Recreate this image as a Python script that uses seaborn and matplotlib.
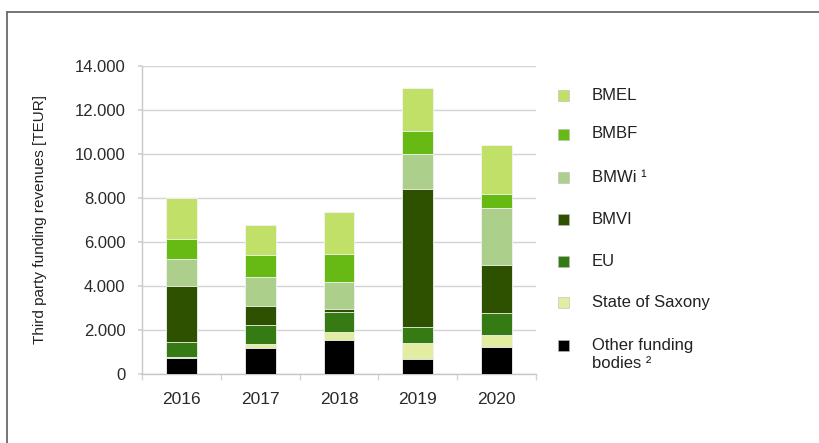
import numpy as np
import pandas as pd
import matplotlib
matplotlib.use("Agg")
import matplotlib.pyplot as plt
from matplotlib.patches import Rectangle
from matplotlib.lines import Line2D
from matplotlib.ticker import FuncFormatter, FixedLocator
import seaborn as sns

# Third party funding revenues in TEUR, by funding body (bottom to top of each stack)
years = ["2016", "2017", "2018", "2019", "2020"]
other_funding = [720, 1170, 1540, 670, 1210]
state_of_saxony = [40, 190, 380, 730, 560]
eu = [680, 850, 910, 730, 1010]
bmvi = [2570, 880, 110, 6280, 2170]
bmwi = [1200, 1330, 1260, 1570, 2590]
bmbf = [920, 970, 1270, 1060, 640]
bmel = [1850, 1380, 1880, 1940, 2200]

series_names = ["Other funding\nbodies ²", "State of Saxony", "EU", "BMVI", "BMWi ¹", "BMBF", "BMEL"]
series_values = [other_funding, state_of_saxony, eu, bmvi, bmwi, bmbf, bmel]
series_colors = ["#000000", "#e2eda2", "#357a12", "#2e5100", "#acd08b", "#67b914", "#c0e067"]

sns.set_theme(style="white")
plt.rcParams["font.family"] = ["Liberation Sans", "DejaVu Sans"]

fig = plt.figure(figsize=(8.2, 4.43), dpi=100)
ax = fig.add_axes([142 / 820, 1 - 374 / 443, (536 - 142) / 820, (374 - 65.7) / 443])

# Long-form table with cumulative heights; taller stacks drawn first, shorter on top
rows = []
cum = np.zeros(len(years))
for name, vals in zip(series_names, series_values):
    cum = cum + np.array(vals, dtype=float)
    for y, c in zip(years, cum):
        rows.append({"year": y, "source": name, "top": c})
df = pd.DataFrame(rows)

for name, color in reversed(list(zip(series_names, series_colors))):
    sub = df[df["source"] == name]
    sns.barplot(data=sub, x="year", y="top", order=years, color=color,
                width=0.39, saturation=1, edgecolor="#f4f4f4", linewidth=0.6,
                ax=ax, zorder=3)

ax.set_ylim(0, 14000)
ax.set_xlim(-0.5, len(years) - 0.5)
ax.set_yticks(np.arange(0, 14001, 2000))
ax.yaxis.set_major_formatter(FuncFormatter(lambda v, p: f"{int(v):,}".replace(",", ".")))
ax.grid(axis="y", color="#d4d4d4", linewidth=1.0, zorder=0)
ax.set_axisbelow(True)

for side in ["top", "right"]:
    ax.spines[side].set_visible(False)
for side in ["left", "bottom"]:
    ax.spines[side].set_color("#c8c8c8")
    ax.spines[side].set_linewidth(1.0)

ax.tick_params(axis="y", which="major", length=3, color="#d4d4d4", pad=9,
               labelsize=12, labelcolor="#2a2a2a", left=True)
ax.tick_params(axis="x", which="major", length=0, pad=13, labelsize=12.5,
               labelcolor="#2a2a2a", bottom=True)
ax.xaxis.set_minor_locator(FixedLocator(np.arange(-0.5, len(years), 1.0)))
ax.tick_params(axis="x", which="minor", length=4, color="#d4d4d4", bottom=True)
ax.set_xlabel("")
ax.set_ylabel("Third party funding revenues [TEUR]", fontsize=11, color="#222222", labelpad=20)

# Legend: top entry first
legend_y = [95, 134, 177, 219, 261, 302, 345]
for (name, color), ypx in zip(reversed(list(zip(series_names, series_colors))), legend_y):
    sq = 11
    fig.add_artist(Rectangle(((563 - sq / 2) / 820, 1 - (ypx + sq / 2) / 443), sq / 820, sq / 443,
                             transform=fig.transFigure, facecolor=color,
                             edgecolor="#bbbbbb", linewidth=0.4))
    va_y = ypx if "\n" not in name else ypx - 7
    fig.text(592 / 820, 1 - va_y / 443, name, fontsize=12, color="#222222",
             va="center" if "\n" not in name else "top", ha="left", linespacing=1.25,
             transform=fig.transFigure)

# Frame lines along the top and left edge
fig.add_artist(Line2D([7.5 / 820, 1], [1 - 11.5 / 443, 1 - 11.5 / 443], transform=fig.transFigure,
                      color="#6a6a6a", linewidth=1.3))
fig.add_artist(Line2D([7.5 / 820, 7.5 / 820], [0, 1 - 11.5 / 443], transform=fig.transFigure,
                      color="#6a6a6a", linewidth=1.3))

fig.savefig("out.png", dpi=100, facecolor="white")
